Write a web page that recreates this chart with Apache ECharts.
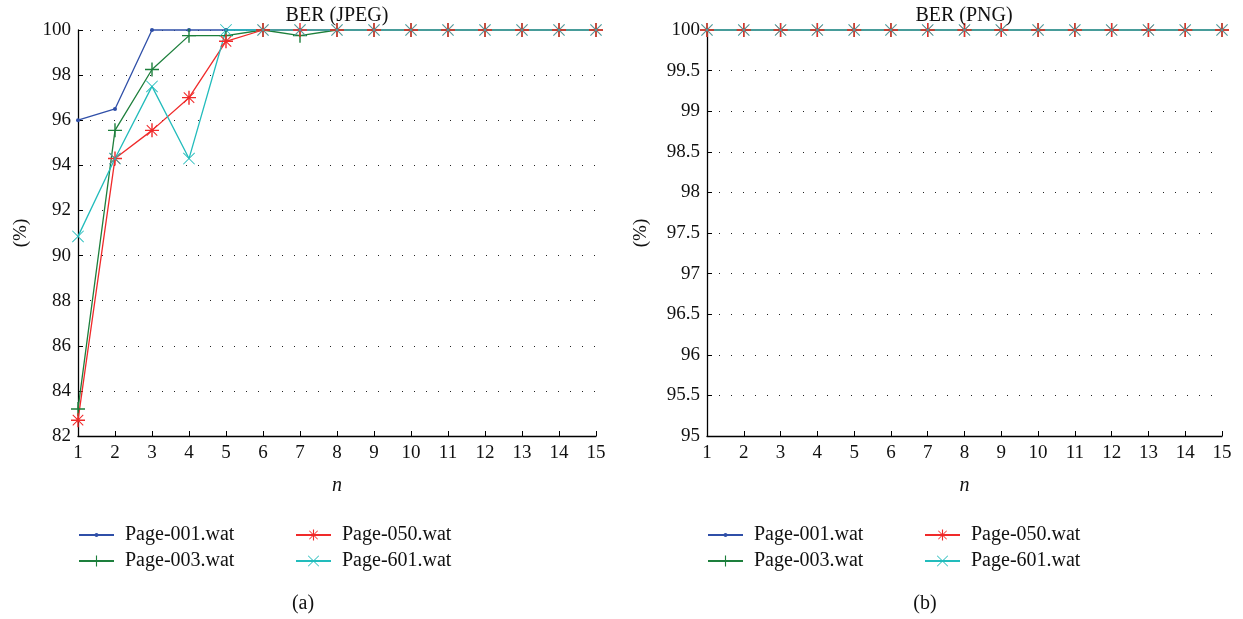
<!DOCTYPE html>
<html>
<head>
<meta charset="utf-8">
<script src="https://cdn.jsdelivr.net/npm/echarts@6/dist/echarts.min.js"></script>
<style>
  html, body { margin: 0; padding: 0; background: #fff; }
  #main { width: 1243px; height: 619px; }
</style>
</head>
<body>
<div id="main"></div>
<script>
// n 取值
var nList = [1, 2, 3, 4, 5, 6, 7, 8, 9, 10, 11, 12, 13, 14, 15];
var seriesNames = ['Page-001.wat', 'Page-003.wat', 'Page-050.wat', 'Page-601.wat'];
// BER (JPEG)
var jpeg001 = [96.0, 96.5, 100, 100, 100, 100, 100, 100, 100, 100, 100, 100, 100, 100, 100];
var jpeg003 = [83.2, 95.55, 98.25, 99.75, 99.75, 100, 99.75, 100, 100, 100, 100, 100, 100, 100, 100];
var jpeg050 = [82.7, 94.3, 95.55, 97.0, 99.5, 100, 100, 100, 100, 100, 100, 100, 100, 100, 100];
var jpeg601 = [90.85, 94.3, 97.5, 94.3, 100, 100, 100, 100, 100, 100, 100, 100, 100, 100, 100];
// BER (PNG)
var png001 = [100, 100, 100, 100, 100, 100, 100, 100, 100, 100, 100, 100, 100, 100, 100];
var png003 = [100, 100, 100, 100, 100, 100, 100, 100, 100, 100, 100, 100, 100, 100, 100];
var png050 = [100, 100, 100, 100, 100, 100, 100, 100, 100, 100, 100, 100, 100, 100, 100];
var png601 = [100, 100, 100, 100, 100, 100, 100, 100, 100, 100, 100, 100, 100, 100, 100];
// 轴刻度
var jpegTicks = { min: 82, max: 100, interval: 2 };
var pngTicks = { min: 95, max: 100, interval: 0.5 };

var colors = ['#2f4fa8', '#1d7f3c', '#f02a2a', '#22bcbc'];
var FONT = 'Liberation Serif';

// 标记形状
var plusPath = 'path://M9,0 L11,0 L11,9 L20,9 L20,11 L11,11 L11,20 L9,20 L9,11 L0,11 L0,9 L9,9 Z';
var crossPath = 'path://M0,1 L1,0 L20,19 L19,20 Z M19,0 L20,1 L1,20 L0,19 Z';
var starPath = 'path://M9,0 L11,0 L11,9 L20,9 L20,11 L11,11 L11,20 L9,20 L9,11 L0,11 L0,9 L9,9 Z M2,3 L3,2 L18,17 L17,18 Z M17,2 L18,3 L3,18 L2,17 Z';
var symbols = ['circle', plusPath, starPath, crossPath];
var symbolSizes = [4, 14, 14, 12];

function pairs(vals) {
  var out = [];
  for (var i = 0; i < nList.length; i++) {
    out.push([nList[i], vals[i]]);
  }
  return out;
}

function makeSeries(idx, lists) {
  var res = [];
  for (var k = 0; k < lists.length; k++) {
    res.push({
      name: seriesNames[k],
      type: 'line',
      xAxisIndex: idx,
      yAxisIndex: idx,
      data: pairs(lists[k]),
      symbol: symbols[k],
      symbolSize: symbolSizes[k],
      showAllSymbol: true,
      clip: false,
      animation: false,
      lineStyle: { color: colors[k], width: 1.3 },
      itemStyle: { color: colors[k] }
    });
  }
  return res;
}

function xAx(idx) {
  return {
    type: 'value', gridIndex: idx, min: 1, max: 15, interval: 1,
    name: 'n', nameLocation: 'middle', nameGap: 40,
    nameTextStyle: { fontFamily: FONT, fontSize: 20, fontStyle: 'italic', color: '#111' },
    axisLine: { lineStyle: { color: '#000', width: 1.3 } },
    axisTick: { inside: true, length: 5, lineStyle: { color: '#000' } },
    axisLabel: { fontFamily: FONT, fontSize: 19, color: '#111', margin: 8 },
    splitLine: { show: false }
  };
}

function yAx(idx, t, gap) {
  return {
    type: 'value', gridIndex: idx, min: t.min, max: t.max, interval: t.interval,
    name: '(%)', nameLocation: 'middle', nameGap: gap,
    nameTextStyle: { fontFamily: FONT, fontSize: 19, color: '#111' },
    axisLine: { show: true, lineStyle: { color: '#000', width: 1.3 } },
    axisTick: { show: true, inside: true, length: 5, lineStyle: { color: '#000' } },
    axisLabel: { fontFamily: FONT, fontSize: 19, color: '#111', margin: 7 },
    splitLine: { show: true, lineStyle: { color: '#222', width: 1, type: [1, 11] } }
  };
}

// 每个图例单独一项，圆点那项用小一点的图标
function legendItem(left, top, name) {
  var small = name === seriesNames[0];
  return {
    left: left, top: top, data: [name], padding: 0,
    itemWidth: 35, itemHeight: small ? 5 : 14,
    textStyle: { fontFamily: FONT, fontSize: 20, color: '#111', padding: [0, 0, 0, 6] }
  };
}

var chart = echarts.init(document.getElementById('main'));
var titleStyle = { fontFamily: FONT, fontSize: 20, fontWeight: 'normal', color: '#111' };
var option = {
  backgroundColor: '#fff',
  animation: false,
  title: [
    { text: 'BER (JPEG)', left: 332, top: 1, textAlign: 'center', textStyle: titleStyle },
    { text: 'BER (PNG)', left: 959, top: 1, textAlign: 'center', textStyle: titleStyle },
    { text: '(a)', left: 298, top: 589, textAlign: 'center', textStyle: titleStyle },
    { text: '(b)', left: 920, top: 589, textAlign: 'center', textStyle: titleStyle }
  ],
  grid: [
    { left: 78, right: 647, top: 30, bottom: 183 },
    { left: 707, right: 21, top: 30, bottom: 183 }
  ],
  legend: [
    legendItem(78, 525, seriesNames[0]),
    legendItem(78, 551, seriesNames[1]),
    legendItem(295, 525, seriesNames[2]),
    legendItem(295, 551, seriesNames[3]),
    legendItem(707, 525, seriesNames[0]),
    legendItem(707, 551, seriesNames[1]),
    legendItem(924, 525, seriesNames[2]),
    legendItem(924, 551, seriesNames[3])
  ],
  xAxis: [xAx(0), xAx(1)],
  yAxis: [yAx(0, jpegTicks, 47), yAx(1, pngTicks, 56)],
  series: makeSeries(0, [jpeg001, jpeg003, jpeg050, jpeg601])
    .concat(makeSeries(1, [png001, png003, png050, png601]))
};
chart.setOption(option);
</script>
</body>
</html>
